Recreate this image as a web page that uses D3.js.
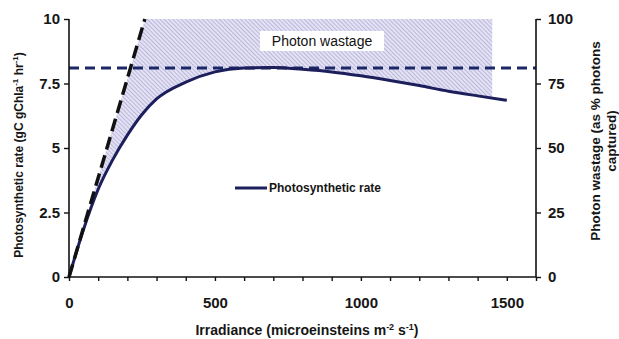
<!DOCTYPE html>
<html><head><meta charset="utf-8">
<script src="https://cdn.jsdelivr.net/npm/d3@7"></script>
<style>body{margin:0;background:#fff}svg{display:block}text{font-family:Arial,"Liberation Sans",sans-serif}</style>
</head><body><svg id="c" width="619" height="339"></svg>
<script>
const irradiance = [0, 50, 100, 150, 200, 250, 300, 400, 500, 600, 700, 800, 900, 1000, 1100, 1200, 1300, 1400, 1500];
const photoRate  = [0, 1.85, 3.4, 4.55, 5.5, 6.3, 6.9, 7.55, 7.95, 8.1, 8.12, 8.05, 7.95, 7.8, 7.62, 7.42, 7.2, 7.02, 6.85];
const slopeX = [0, 260];
const slopeY = [0, 10];
const maxRate = 8.1;
const wastageRightEdge = 1450;
const xTicks = [0, 500, 1000, 1500];
const yTicks = [0, 2.5, 5, 7.5, 10];
const y2Ticks = [0, 25, 50, 75, 100];

const svg = d3.select("#c");
const L = 69, R = 536, T = 19, B = 277;
const x = d3.scaleLinear().domain([0, 1600]).range([L, R]);
const y = d3.scaleLinear().domain([0, 10]).range([B, T]);
const y2 = d3.scaleLinear().domain([0, 100]).range([B, T]);

const defs = svg.append("defs");
const pat = defs.append("pattern").attr("id","hatch").attr("patternUnits","userSpaceOnUse")
  .attr("width",3).attr("height",3).attr("patternTransform","rotate(-45)");
pat.append("rect").attr("width",3).attr("height",3).attr("fill","#e4e2f2");
pat.append("line").attr("x1",0).attr("y1",0).attr("x2",0).attr("y2",3).attr("stroke","#a8a6d6").attr("stroke-width",1.4);

defs.append("clipPath").attr("id","wclip").append("polygon")
  .attr("points",[[x(slopeX[0]),y(slopeY[0])],[x(slopeX[1]),y(slopeY[1])],[x(wastageRightEdge),y(10)],[x(wastageRightEdge),y(0)]].map(p=>p.join(",")).join(" "));

const data = irradiance.map((d,i)=>({x:d,y:photoRate[i]}));
svg.append("path").datum(data)
  .attr("clip-path","url(#wclip)")
  .attr("fill","url(#hatch)")
  .attr("d", d3.area().x(d=>x(d.x)).y0(d=>y(d.y)).y1(y(10)).curve(d3.curveMonotoneX));

// label box
svg.append("rect").attr("x",260).attr("y",31).attr("width",124).attr("height",20).attr("fill","#fff");
svg.append("text").attr("x",322).attr("y",46).attr("text-anchor","middle").attr("font-size",14).attr("fill","#111").text("Photon wastage");

// horizontal max dashed line
svg.append("line").attr("x1",x(0)).attr("x2",R).attr("y1",y(maxRate)).attr("y2",y(maxRate))
  .attr("stroke","#1b2868").attr("stroke-width",3).attr("stroke-dasharray","10,6");

// curve
svg.append("path").datum(data).attr("fill","none").attr("stroke","#1c1f5c").attr("stroke-width",3)
  .attr("d", d3.line().x(d=>x(d.x)).y(d=>y(d.y)).curve(d3.curveMonotoneX));

// slope dashed line
svg.append("line").attr("x1",x(slopeX[0])).attr("y1",y(slopeY[0])).attr("x2",x(slopeX[1])).attr("y2",y(slopeY[1]))
  .attr("stroke","#111").attr("stroke-width",3.5).attr("stroke-dasharray","13,6");

// axes
const fs = 15;
const gx = svg.append("g").attr("transform",`translate(0,${B})`)
  .call(d3.axisBottom(x).tickValues(d3.range(0,1601,100)).tickSize(4).tickFormat(d=>xTicks.includes(d)?d:""));
const gy = svg.append("g").attr("transform",`translate(${L},0)`)
  .call(d3.axisLeft(y).tickValues(yTicks).tickSize(5).tickFormat(d=>d));
const gy2 = svg.append("g").attr("transform",`translate(${R},0)`)
  .call(d3.axisRight(y2).tickValues(y2Ticks).tickSize(5).tickFormat(d=>d));
[gx,gy,gy2].forEach(g=>{
  g.select(".domain").attr("stroke","#111").attr("stroke-width",1.6);
  g.selectAll(".tick line").attr("stroke","#111").attr("stroke-width",1.4);
  g.selectAll("text").attr("font-size",fs).attr("font-weight","bold").attr("fill","#161616").attr("font-family","Arial, 'Liberation Sans', sans-serif");
});
gx.select(".domain").attr("d",`M${L},0H${R}`);
gy.select(".domain").attr("d",`M0,${T}V${B}`);
gy2.select(".domain").attr("d",`M0,${T}V${B}`);
gx.selectAll("text").attr("y",20);
gy.selectAll("text").attr("x",-9);
gy2.selectAll("text").attr("x",12);

// legend
svg.append("line").attr("x1",235).attr("x2",267).attr("y1",188).attr("y2",188).attr("stroke","#1c1f5c").attr("stroke-width",3);
svg.append("text").attr("x",269).attr("y",192).attr("font-size",12).attr("font-weight","bold").attr("fill","#161616").text("Photosynthetic rate");

// axis titles
const xt = svg.append("text").attr("x",307).attr("y",335).attr("text-anchor","middle").attr("font-size",14).attr("font-weight","bold").attr("fill","#161616");
xt.append("tspan").text("Irradiance (microeinsteins m");
xt.append("tspan").attr("font-size",9).attr("dy",-5).text("-2");
xt.append("tspan").attr("dy",5).text(" s");
xt.append("tspan").attr("font-size",9).attr("dy",-5).text("-1");
xt.append("tspan").attr("dy",5).text(")");

const yt = svg.append("text").attr("transform","translate(23,155) rotate(-90)").attr("text-anchor","middle").attr("font-size",12).attr("font-weight","bold").attr("fill","#161616");
yt.append("tspan").text("Photosynthetic rate (gC gChla");
yt.append("tspan").attr("font-size",8).attr("dy",-5).text("-1");
yt.append("tspan").attr("dy",5).text(" hr");
yt.append("tspan").attr("font-size",8).attr("dy",-5).text("-1");
yt.append("tspan").attr("dy",5).text(")");

const y2t = svg.append("text").attr("transform","translate(600,141) rotate(-90)").attr("text-anchor","middle").attr("font-size",13.5).attr("font-weight","bold").attr("fill","#161616");
y2t.append("tspan").attr("x",0).attr("dy",0).text("Photon wastage (as % photons");
y2t.append("tspan").attr("x",0).attr("dy",16).text("captured)");
</script></body></html>
